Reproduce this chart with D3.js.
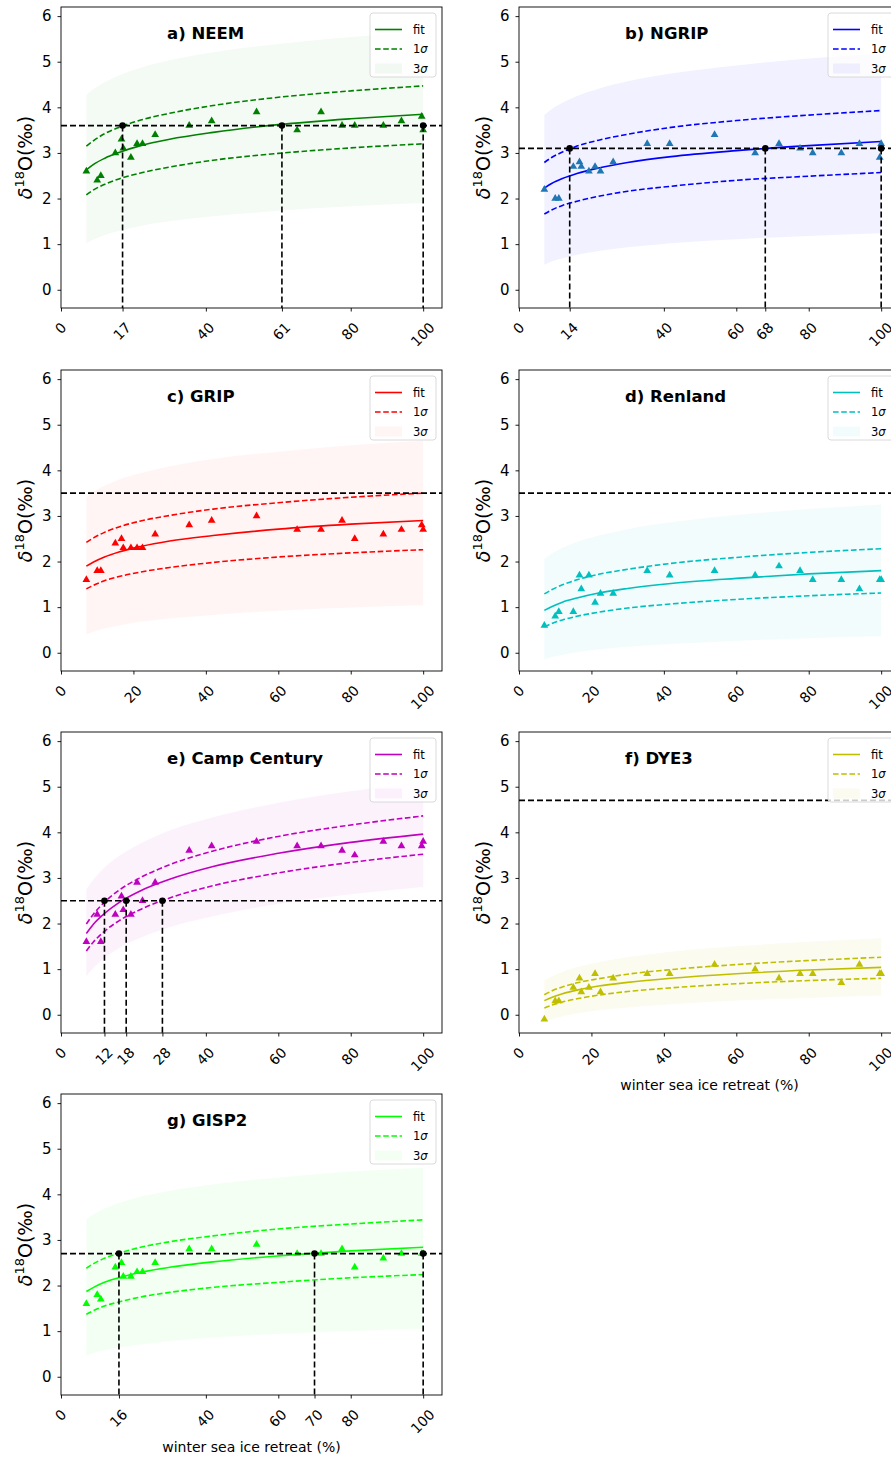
<!DOCTYPE html>
<html><head><meta charset="utf-8">
<script src="https://cdn.jsdelivr.net/npm/d3@7"></script>
<style>
body{margin:0;background:#fff}
svg{display:block}
text{font-family:"DejaVu Sans",sans-serif;fill:#000}
</style>
</head><body>
<svg id="c" width="891" height="1459"></svg>
<script>
// ---- data ----
const retreat = [7,10,11,15,16.7,17.2,19.3,21,22.5,26,35.4,41.6,54,65.2,71.8,77.6,81.1,89,94,99.6,100];
const curveX  = [7,9,12,16,22,30,42,60,80,100];

const titles = ["a) NEEM","b) NGRIP","c) GRIP","d) Renland","e) Camp Century","f) DYE3","g) GISP2"];
const lineColors  = ["#008000","#0000ff","#ff0000","#00bfbf","#bf00bf","#bfbf00","#00ff00"];
const pointColors = ["#008000","#1f77b4","#ff0000","#00bfbf","#bf00bf","#bfbf00","#00ff00"];
const bandOpacities = [0.045,0.055,0.04,0.05,0.05,0.06,0.045];

const obsNEEM    = [2.6,2.4,2.5,3.0,3.3,3.1,2.9,3.2,3.2,3.4,3.6,3.7,3.9,3.5,3.9,3.6,3.6,3.6,3.7,3.8,3.5];
const obsNGRIP   = [2.2,2.0,2.0,2.7,2.8,2.7,2.6,2.7,2.6,2.8,3.2,3.2,3.4,3.0,3.2,3.1,3.0,3.0,3.2,2.9,3.2];
const obsGRIP    = [1.6,1.8,1.8,2.4,2.5,2.3,2.3,2.3,2.3,2.6,2.8,2.9,3.0,2.7,2.7,2.9,2.5,2.6,2.7,2.8,2.7];
const obsRenland = [0.6,0.8,0.9,0.9,1.7,1.4,1.7,1.1,1.3,1.3,1.8,1.7,1.8,1.7,1.9,1.8,1.6,1.6,1.4,1.6,1.6];
const obsCamp    = [1.6,2.2,1.6,2.2,2.6,2.3,2.2,2.9,2.5,2.9,3.6,3.7,3.8,3.7,3.7,3.6,3.5,3.8,3.7,3.7,3.8];
const obsDYE3    = [-0.1,0.3,0.3,0.6,0.8,0.5,0.6,0.9,0.5,0.8,0.9,0.9,1.1,1.0,0.8,0.9,0.9,0.7,1.1,0.9,0.9];
const obsGISP2   = [1.6,1.8,1.7,2.4,2.5,2.2,2.2,2.3,2.3,2.5,2.8,2.8,2.9,2.7,2.7,2.8,2.4,2.6,2.7,2.7,2.7];

// fit, +1σ, -1σ, +3σ, -3σ at curveX
const fitNEEM = [2.63,2.75,2.88,3.01,3.16,3.30,3.45,3.62,3.75,3.85];
const hi1NEEM = [3.15,3.27,3.42,3.56,3.72,3.87,4.04,4.22,4.36,4.47];
const lo1NEEM = [2.08,2.19,2.31,2.43,2.56,2.69,2.84,2.99,3.11,3.20];
const hi3NEEM = [4.27,4.40,4.55,4.70,4.87,5.03,5.21,5.39,5.54,5.66];
const lo3NEEM = [1.02,1.10,1.20,1.29,1.40,1.50,1.61,1.73,1.83,1.90];

const fitNGRIP = [2.23,2.33,2.44,2.55,2.67,2.79,2.92,3.05,3.16,3.25];
const hi1NGRIP = [2.79,2.90,3.02,3.15,3.28,3.41,3.56,3.71,3.83,3.93];
const lo1NGRIP = [1.66,1.75,1.85,1.94,2.05,2.16,2.27,2.40,2.49,2.57];
const hi3NGRIP = [3.83,3.96,4.10,4.25,4.41,4.57,4.74,4.92,5.07,5.18];
const lo3NGRIP = [0.55,0.62,0.69,0.77,0.85,0.93,1.02,1.11,1.18,1.24];

const fitGRIP = [1.90,1.99,2.10,2.21,2.33,2.45,2.57,2.71,2.82,2.90];
const hi1GRIP = [2.42,2.52,2.64,2.76,2.89,3.01,3.15,3.29,3.41,3.50];
const lo1GRIP = [1.40,1.48,1.58,1.67,1.77,1.87,1.98,2.10,2.19,2.26];
const hi3GRIP = [3.41,3.53,3.66,3.80,3.94,4.09,4.25,4.41,4.55,4.65];
const lo3GRIP = [0.40,0.46,0.53,0.60,0.68,0.75,0.83,0.92,0.99,1.04];

const fitRenland = [0.93,1.01,1.11,1.20,1.31,1.41,1.52,1.63,1.73,1.80];
const hi1Renland = [1.29,1.38,1.49,1.60,1.72,1.83,1.96,2.09,2.20,2.28];
const lo1Renland = [0.57,0.64,0.72,0.80,0.89,0.98,1.07,1.17,1.25,1.31];
const hi3Renland = [2.06,2.17,2.30,2.43,2.57,2.71,2.86,3.02,3.15,3.25];
const lo3Renland = [-0.15,-0.10,-0.05,0.01,0.07,0.13,0.19,0.26,0.32,0.36];

const fitCamp = [1.78,1.99,2.22,2.46,2.72,2.97,3.25,3.54,3.78,3.96];
const hi1Camp = [1.99,2.21,2.47,2.73,3.01,3.29,3.59,3.91,4.16,4.36];
const lo1Camp = [1.40,1.60,1.83,2.06,2.31,2.56,2.83,3.11,3.34,3.52];
const hi3Camp = [2.75,2.97,3.23,3.48,3.76,4.04,4.33,4.65,4.90,5.10];
const lo3Camp = [0.85,1.03,1.25,1.46,1.69,1.92,2.16,2.43,2.64,2.80];

const fitDYE3 = [0.31,0.38,0.46,0.54,0.63,0.71,0.80,0.90,0.98,1.04];
const hi1DYE3 = [0.44,0.52,0.61,0.70,0.79,0.89,0.99,1.10,1.19,1.26];
const lo1DYE3 = [0.15,0.21,0.28,0.35,0.43,0.51,0.59,0.68,0.75,0.80];
const hi3DYE3 = [0.75,0.84,0.94,1.04,1.15,1.26,1.38,1.50,1.60,1.68];
const lo3DYE3 = [-0.15,-0.10,-0.03,0.03,0.10,0.16,0.23,0.31,0.37,0.42];

const fitGISP2 = [1.87,1.96,2.07,2.17,2.29,2.40,2.52,2.65,2.76,2.84];
const hi1GISP2 = [2.38,2.48,2.60,2.71,2.84,2.96,3.09,3.24,3.35,3.44];
const lo1GISP2 = [1.37,1.45,1.55,1.64,1.75,1.85,1.96,2.07,2.17,2.24];
const hi3GISP2 = [3.46,3.57,3.69,3.81,3.95,4.08,4.22,4.37,4.50,4.59];
const lo3GISP2 = [0.46,0.52,0.58,0.64,0.71,0.78,0.86,0.94,1.00,1.05];

const refLevels = [3.6,3.1,3.5,3.5,2.5,4.7,2.7];
const refCross  = [[17,61,100],[14,68,100],[],[],[12,18,28],[],[16,70,100]];
const xTickSets = [
  [0,17,40,61,80,100],
  [0,14,40,60,68,80,100],
  [0,20,40,60,80,100],
  [0,20,40,60,80,100],
  [0,12,18,28,40,60,80,100],
  [0,20,40,60,80,100],
  [0,16,40,60,70,80,100]
];
const yTickValues = [0,1,2,3,4,5,6];
const legendLabels = ["fit","1","3"];
const xLabelText = "winter sea ice retreat (%)";

const obs  = [obsNEEM,obsNGRIP,obsGRIP,obsRenland,obsCamp,obsDYE3,obsGISP2];
const fits = [fitNEEM,fitNGRIP,fitGRIP,fitRenland,fitCamp,fitDYE3,fitGISP2];
const hi1s = [hi1NEEM,hi1NGRIP,hi1GRIP,hi1Renland,hi1Camp,hi1DYE3,hi1GISP2];
const lo1s = [lo1NEEM,lo1NGRIP,lo1GRIP,lo1Renland,lo1Camp,lo1DYE3,lo1GISP2];
const hi3s = [hi3NEEM,hi3NGRIP,hi3GRIP,hi3Renland,hi3Camp,hi3DYE3,hi3GISP2];
const lo3s = [lo3NEEM,lo3NGRIP,lo3GRIP,lo3Renland,lo3Camp,lo3DYE3,lo3GISP2];
const showXLabel = [false,false,false,false,false,true,true];

// ---- layout ----
const svg = d3.select("#c");
const W = 381, H = 301;
const colLeft = [61, 519];
const rowTop = [7, 370, 732, 1094];
const x = d3.scaleLinear().domain([0, 105.2]).range([0, W]);
const y = d3.scaleLinear().domain([-0.4, 6.2]).range([H, 0]);

titles.forEach((title, i) => {
  const gx = colLeft[i % 2], gy = rowTop[Math.floor(i / 2)];
  const g = svg.append("g").attr("transform", `translate(${gx},${gy})`);
  const col = lineColors[i];
  const bandOpacity = bandOpacities[i];
  const pts = curveX.map((cx, k) => ({x: cx, fit: fits[i][k], hi1: hi1s[i][k], lo1: lo1s[i][k], hi3: hi3s[i][k], lo3: lo3s[i][k]}));
  const crv = d3.curveMonotoneX;

  g.append("clipPath").attr("id", "clip" + i).append("rect").attr("width", W).attr("height", H);
  const pg = g.append("g").attr("clip-path", `url(#clip${i})`);

  // 3σ band
  pg.append("path").datum(pts)
    .attr("d", d3.area().x(d => x(d.x)).y0(d => y(d.lo3)).y1(d => y(d.hi3)).curve(crv))
    .attr("fill", col).attr("fill-opacity", bandOpacity);

  // fit
  pg.append("path").datum(pts)
    .attr("d", d3.line().x(d => x(d.x)).y(d => y(d.fit)).curve(crv))
    .attr("fill", "none").attr("stroke", col).attr("stroke-width", 1.6);
  // 1σ
  ["hi1", "lo1"].forEach(key => {
    pg.append("path").datum(pts)
      .attr("d", d3.line().x(d => x(d.x)).y(d => y(d[key])).curve(crv))
      .attr("fill", "none").attr("stroke", col).attr("stroke-width", 1.6)
      .attr("stroke-dasharray", "5.6,2.6");
  });

  // observations
  const tri = d3.symbol().type(d3.symbolTriangle).size(26);
  pg.selectAll("path.obs").data(retreat.map((r, k) => [r, obs[i][k]])).join("path")
    .attr("class", "obs")
    .attr("d", tri)
    .attr("transform", d => `translate(${x(d[0])},${y(d[1])})`)
    .attr("fill", pointColors[i]);

  // reference lines
  const ry = y(refLevels[i]);
  g.append("line").attr("x1", 0).attr("x2", W).attr("y1", ry).attr("y2", ry)
    .attr("stroke", "#000").attr("stroke-width", 1.6).attr("stroke-dasharray", "6,3");
  refCross[i].forEach(cx => {
    g.append("line").attr("x1", x(cx)).attr("x2", x(cx)).attr("y1", ry).attr("y2", H)
      .attr("stroke", "#000").attr("stroke-width", 1.6).attr("stroke-dasharray", "6,3");
  });
  g.selectAll("circle.cross").data(refCross[i]).join("circle")
    .attr("class", "cross").attr("cx", d => x(d)).attr("cy", ry).attr("r", 3.3).attr("fill", "#000");

  // axes
  const ya = g.append("g").call(d3.axisLeft(y).tickValues(yTickValues).tickSize(3.5).tickPadding(6).tickFormat(d3.format("d")));
  ya.select(".domain").remove();
  ya.selectAll("line").attr("stroke", "#000").attr("stroke-width", 0.9);
  ya.selectAll("text").attr("font-size", 15).attr("font-family", "DejaVu Sans").attr("fill", "#222");

  const xa = g.append("g").attr("transform", `translate(0,${H})`)
    .call(d3.axisBottom(x).tickValues(xTickSets[i]).tickSize(3.5).tickFormat(d3.format("d")));
  xa.select(".domain").remove();
  xa.selectAll("line").attr("stroke", "#000").attr("stroke-width", 0.9);
  xa.selectAll("text").attr("font-size", 14).attr("font-family", "DejaVu Sans").attr("fill", "#222")
    .attr("y", 0).attr("dy", null).attr("text-anchor", "middle").attr("dominant-baseline", "central")
    .each(function () {
      const len = this.getComputedTextLength();
      const half = (len + 14) * 0.7071 / 2;
      d3.select(this).attr("transform", `translate(-1,${12 + half}) rotate(-45)`);
    });

  // frame
  g.append("rect").attr("width", W).attr("height", H).attr("fill", "none")
    .attr("stroke", "#000").attr("stroke-width", 0.9);

  // title
  g.append("text").attr("x", 106).attr("y", 32).attr("font-size", 16.5).attr("font-weight", "bold").text(title);

  // y label
  const yl = g.append("text").attr("transform", `translate(-29,${H / 2}) rotate(-90)`)
    .attr("text-anchor", "middle").attr("font-size", 19).attr("fill", "#222");
  yl.append("tspan").attr("font-style", "italic").text("δ");
  yl.append("tspan").attr("font-size", 13).attr("dy", -8).text("18");
  yl.append("tspan").attr("dy", 8).text("O(‰)");

  // x label
  if (showXLabel[i]) {
    g.append("text").attr("x", W / 2).attr("y", H + 57).attr("text-anchor", "middle")
      .attr("font-size", 14).attr("fill", "#222").text(xLabelText);
  }

  // legend
  const lg = g.append("g").attr("transform", `translate(${W - 72},6)`);
  lg.append("rect").attr("width", 66).attr("height", 64).attr("rx", 3)
    .attr("fill", "#fff").attr("fill-opacity", 0.8).attr("stroke", "#d6d6d6").attr("stroke-width", 0.9);
  const ly = [16.5, 36, 55.5];
  lg.append("line").attr("x1", 5).attr("x2", 32).attr("y1", ly[0]).attr("y2", ly[0])
    .attr("stroke", col).attr("stroke-width", 1.6);
  lg.append("line").attr("x1", 5).attr("x2", 32).attr("y1", ly[1]).attr("y2", ly[1])
    .attr("stroke", col).attr("stroke-width", 1.6).attr("stroke-dasharray", "5.6,2.6");
  lg.append("rect").attr("x", 5).attr("y", ly[2] - 5).attr("width", 27).attr("height", 10)
    .attr("fill", col).attr("fill-opacity", bandOpacity);
  legendLabels.forEach((lab, k) => {
    const t = lg.append("text").attr("x", 43).attr("y", ly[k]).attr("dominant-baseline", "central")
      .attr("font-size", 11.5).attr("fill", "#222");
    t.append("tspan").text(lab);
    if (k > 0) t.append("tspan").attr("font-style", "italic").text("σ");
  });
});
</script>
</body></html>
